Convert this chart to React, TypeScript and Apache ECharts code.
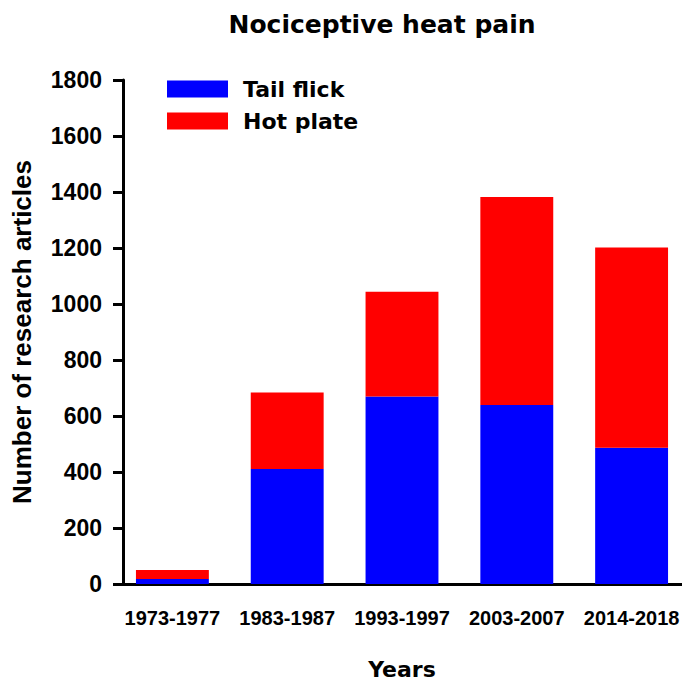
import React, { useEffect, useRef } from "react";
import * as echarts from "echarts";

const categories = ["1973-1977", "1983-1987", "1993-1997", "2003-2007", "2014-2018"];
const tailFlick = [18, 411, 670, 639, 487];
const hotPlate = [32, 273, 374, 743, 715];
const yTicks = { min: 0, max: 1800, interval: 200 };

const FONT = "DejaVu Sans";
const ARIAL = "Liberation Sans";

export default function App() {
  const ref = useRef<HTMLDivElement>(null);
  useEffect(() => {
    if (!ref.current) return;
    const chart = echarts.init(ref.current, undefined, { renderer: "svg" });
    chart.setOption({
      animation: false,
      backgroundColor: "#ffffff",
      title: {
        text: "Nociceptive heat pain",
        left: 377,
        top: 7,
        textAlign: "center",
        textStyle: { fontFamily: FONT, fontWeight: "bold", fontSize: 25, color: "#000" },
      },
      legend: {
        orient: "vertical",
        left: 162,
        top: 73,
        itemWidth: 61,
        itemHeight: 17,
        itemGap: 10,
        icon: "rect",
        formatter: (n: string) => `{t|${n}}`,
        textStyle: {
          fontFamily: FONT,
          fontWeight: "bold",
          fontSize: 22,
          color: "#000",
          rich: { t: { fontFamily: FONT, fontWeight: "bold", fontSize: 22, color: "#000", padding: [0, 0, 0, 10] } },
        },
        data: ["Tail flick", "Hot plate"],
      },
      grid: { left: 115, right: -7, top: 80, bottom: 104, containLabel: false, outerBoundsMode: "none" },
      xAxis: {
        type: "category",
        data: categories,
        name: "Years",
        nameLocation: "middle",
        nameGap: 74,
        nameTextStyle: { fontFamily: FONT, fontWeight: "bold", fontSize: 22, color: "#000" },
        axisLine: { lineStyle: { color: "#000", width: 3 } },
        axisTick: { alignWithLabel: true, length: 9, lineStyle: { color: "#000", width: 3 } },
        axisLabel: { interval: 0, fontFamily: ARIAL, fontWeight: "bold", fontSize: 20, color: "#000", margin: 24 },
      },
      yAxis: {
        type: "value",
        min: yTicks.min,
        max: yTicks.max,
        interval: yTicks.interval,
        offset: -8,
        name: "Number of research articles",
        nameLocation: "middle",
        nameGap: 88,
        nameTextStyle: { fontFamily: ARIAL, fontWeight: "bold", fontSize: 26, color: "#000" },
        splitLine: { show: false },
        axisLine: { show: true, lineStyle: { color: "#000", width: 3 } },
        axisTick: { show: true, length: 10, lineStyle: { color: "#000", width: 3 } },
        axisLabel: {
          fontFamily: ARIAL,
          fontWeight: "bold",
          fontSize: 23,
          color: "#000",
          margin: 21,
          formatter: (v: number) => String(v),
        },
      },
      series: [
        {
          name: "Tail flick",
          type: "bar",
          stack: "total",
          barWidth: "63.5%",
          itemStyle: { color: "#0000FF" },
          data: tailFlick,
        },
        {
          name: "Hot plate",
          type: "bar",
          stack: "total",
          barWidth: "63.5%",
          itemStyle: { color: "#FF0000" },
          data: hotPlate,
        },
      ],
    });
    return () => chart.dispose();
  }, []);
  return <div ref={ref} style={{ width: 682, height: 688, position: "absolute", left: 0, top: 0 }} />;
}
